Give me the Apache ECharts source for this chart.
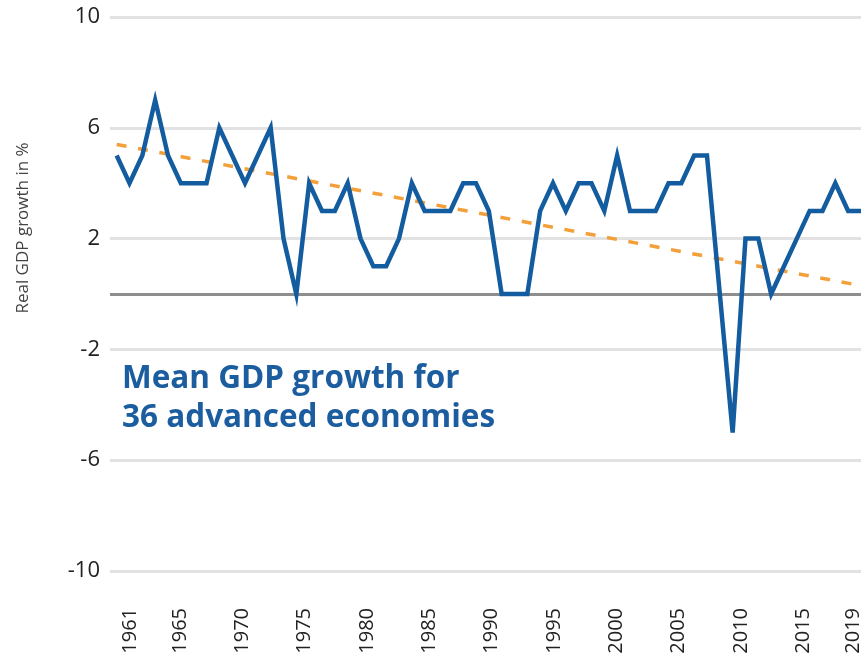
<!DOCTYPE html>
<html>
<head>
<meta charset="utf-8">
<script src="https://cdn.jsdelivr.net/npm/echarts@6/dist/echarts.min.js"></script>
<style>
html,body{margin:0;padding:0;background:#fff;}
#chart{width:863px;height:658px;}
</style>
</head>
<body>
<div id="chart"></div>
<script>
// Years of the data series
const years = [1961,1962,1963,1964,1965,1966,1967,1968,1969,1970,
  1971,1972,1973,1974,1975,1976,1977,1978,1979,1980,
  1981,1982,1983,1984,1985,1986,1987,1988,1989,1990,
  1991,1992,1993,1994,1995,1996,1997,1998,1999,2000,
  2001,2002,2003,2004,2005,2006,2007,2008,2009,2010,
  2011,2012,2013,2014,2015,2016,2017,2018,2019];
// Mean real GDP growth (%)
const growth = [5,4,5,7,5,4,4,4,6,5,
  4,5,6,2,0,4,3,3,4,2,
  1,1,2,4,3,3,3,4,4,3,
  0,0,0,3,4,3,4,4,3,5,
  3,3,3,4,4,5,5,0,-5,2,
  2,0,1,2,3,3,4,3,3];
// Trend line end points
const trendYears = [1961, 2019];
const trendValues = [5.4, 0.3];
// Tick labels
const xTickLabels = [1961,1965,1970,1975,1980,1985,1990,1995,2000,2005,2010,2015,2019];
const yTicks = [-10,-6,-2,2,6,10];

const FONT = '"Open Sans", "Noto Sans", sans-serif';
const chart = echarts.init(document.getElementById('chart'), null, {renderer:'canvas'});

const option = {
  backgroundColor: '#ffffff',
  animation: false,
  grid: {left: 110, right: 0, top: 17, bottom: 87, containLabel: false},
  xAxis: [
    {
      type: 'value', min: 1960.48, max: 2019, show: false,
      axisLine: {onZero: false}, splitLine: {show: false}
    },
    {
      type: 'value', min: 1959.4, max: 2019.64, position: 'bottom',
      axisLine: {show: false, onZero: false},
      axisTick: {show: false},
      splitLine: {show: false},
      axisLabel: {
        customValues: xTickLabels,
        rotate: 90, margin: 37,
        fontSize: 20, fontWeight: 500, color: '#222', fontFamily: FONT,
        formatter: v => String(v)
      }
    }
  ],
  yAxis: {
    type: 'value', min: yTicks[0], max: yTicks[yTicks.length-1], interval: 4,
    axisLine: {show: false, onZero: false},
    axisTick: {show: false},
    axisLabel: {fontSize: 22, fontWeight: 500, color: '#222', fontFamily: FONT, margin: 10},
    splitLine: {lineStyle: {color: '#e2e2e2', width: 3}}
  },
  graphic: [
    {
      type: 'text', x: 23, y: 228, rotation: Math.PI/2,
      style: {text: 'Real GDP growth in %', font: '17px ' + FONT, fill: '#444',
        textAlign: 'center', textVerticalAlign: 'middle'}
    },
    {
      type: 'text', x: 122, y: 360,
      style: {text: 'Mean GDP growth for\n36 advanced economies',
        font: 'bold 31.5px ' + FONT, fill: '#1b5d9f', lineHeight: 39,
        textAlign: 'left', textVerticalAlign: 'top'}
    }
  ],
  series: [
    {
      name: 'Trend', type: 'line', xAxisIndex: 0,
      data: trendYears.map((y, i) => [y, trendValues[i]]),
      symbol: 'none', z: 3,
      lineStyle: {color: '#f4a03a', width: 3.5, type: [10, 11.7]}
    },
    {
      name: 'Mean GDP growth', type: 'line', xAxisIndex: 0,
      data: years.map((y, i) => [y, growth[i]]),
      symbol: 'none', z: 4,
      lineStyle: {color: '#135c9f', width: 4.5, join: 'miter'},
      markLine: {
        silent: true, symbol: 'none', z: 1,
        label: {show: false},
        lineStyle: {color: '#8e8e8e', width: 3, type: 'solid'},
        data: [{yAxis: 0}]
      }
    }
  ]
};
chart.setOption(option);
</script>
</body>
</html>
